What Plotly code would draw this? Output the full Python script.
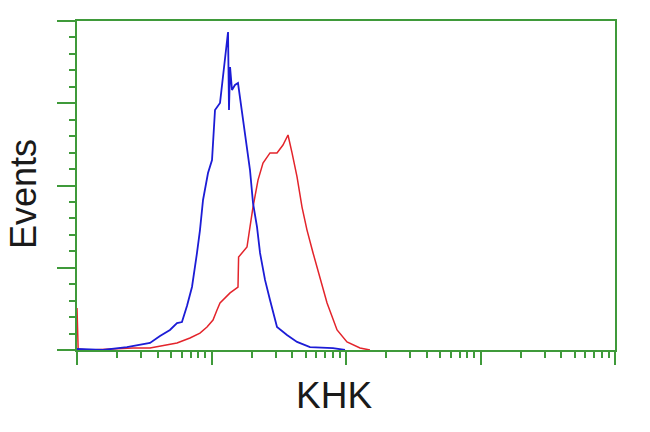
import plotly.graph_objects as go

# Fluorescence channel (log scale) and event counts
blue_x = [1, 1.56, 2.35, 3.49, 4.14, 4.91, 5.54, 6.03, 6.57, 7.16, 7.80, 8.21, 8.65, 9.42,
          10.09, 10.62, 11.57, 12.18, 12.82, 13.27, 13.49, 13.74, 14.20, 14.95, 15.74,
          16.29, 17.15, 18.36, 19.33, 20.35, 21.79, 22.95, 25.00, 27.23, 30.69, 36.41,
          43.25, 53.99, 80.0, 98.3]
blue_y = [0.6, 0, 1.8, 4.3, 8.5, 12.2, 16.4, 17.0, 26.7, 38.3, 59.0, 72.9, 91.2, 107.6,
          115.5, 145.9, 150.2, 166.0, 184.2, 193.3, 145.9, 172.0, 158.1, 161.1, 162.3,
          153.8, 139.8, 123.4, 109.4, 89.4, 74.8, 59.0, 42.6, 30.4, 14.0, 9.1,
          4.9, 1.8, 1.2, 0]

red_x = [1, 1.02, 1.25, 2.61, 3.49, 4.67, 5.54, 6.92, 8.21, 9.26, 10.26, 10.99, 11.57,
         13.74, 15.74, 15.9, 18.36, 19.33, 20.35, 22.17, 24.15, 27.23, 30.69, 34.0,
         37.05, 39.7, 43.25, 47.1, 51.3, 56.9, 64.1, 72.3, 85.8, 101.7, 127.1, 150.7]
red_y = [25.5, 0.5, 0, 1.2, 1.2, 3.0, 4.3, 7.3, 10.3, 14.0, 18.2, 24.3, 28.6,
         34.7, 38.3, 56.5, 62.6, 74.8, 86.9, 103.3, 113.7, 119.8, 119.8, 124.6,
         130.7, 119.8, 105.2, 86.9, 72.9, 59.0, 44.4, 28.6, 12.2, 4.9, 1.2, 0]

x_major = [1, 10, 100, 1000, 10000]
x_minor = [m * d for d in [1, 10, 100, 1000] for m in range(2, 10)]
y_major = [0, 50, 100, 150, 200]
y_minor = list(range(0, 201, 10))

GREEN = "#3f9a3a"

fig = go.Figure()
fig.add_trace(go.Scatter(x=red_x, y=red_y, mode="lines",
                         line=dict(color="#e3242b", width=1.5), showlegend=False))
fig.add_trace(go.Scatter(x=blue_x, y=blue_y, mode="lines",
                         line=dict(color="#1c1cd6", width=1.8), showlegend=False))

fig.update_layout(
    width=650, height=432,
    margin=dict(l=77, r=35, t=21, b=82),
    paper_bgcolor="white", plot_bgcolor="white",
    xaxis=dict(type="log", range=[0, 4], showgrid=False, zeroline=False,
               showline=True, linecolor=GREEN, linewidth=2, mirror=True,
               tickmode="array", tickvals=x_major, showticklabels=False,
               ticks="outside", ticklen=13, tickwidth=2, tickcolor=GREEN,
               minor=dict(tickmode="array", tickvals=x_minor, ticks="outside",
                          ticklen=6, tickwidth=2, tickcolor=GREEN, showgrid=False)),
    yaxis=dict(range=[0, 200], showgrid=False, zeroline=False,
               showline=True, linecolor=GREEN, linewidth=2, mirror=True,
               tickmode="array", tickvals=y_major, showticklabels=False,
               ticks="outside", ticklen=18, tickwidth=2, tickcolor=GREEN,
               minor=dict(tickmode="array", tickvals=y_minor, ticks="outside",
                          ticklen=6, tickwidth=2, tickcolor=GREEN, showgrid=False)),
    annotations=[
        dict(text="KHK", xref="paper", yref="paper", x=0.4786, y=-0.137,
             xanchor="center", yanchor="middle", showarrow=False,
             font=dict(family="Liberation Sans, Arial", size=37, color="#1a1a1a")),
        dict(text="Events", xref="paper", yref="paper", x=-0.1004, y=0.474,
             xanchor="center", yanchor="middle", showarrow=False, textangle=-90,
             font=dict(family="Liberation Sans, Arial", size=36, color="#1a1a1a")),
    ],
)

fig.write_html("out.html",
               config={"displayModeBar": False},
               post_script="document.body.style.margin='0px';document.body.style.overflow='hidden';")
